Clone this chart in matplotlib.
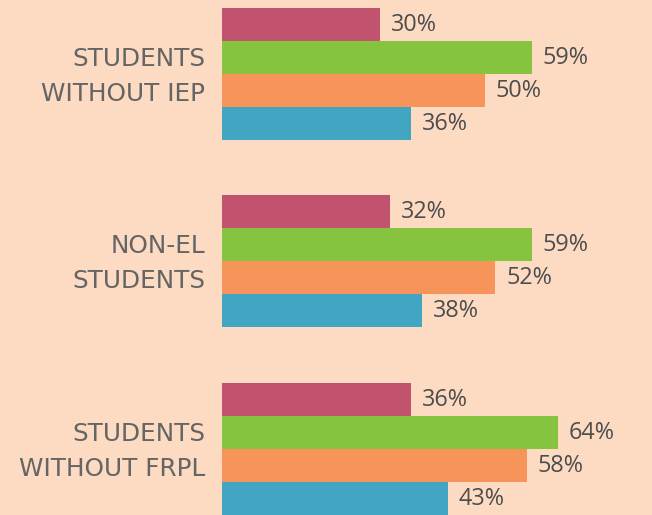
import matplotlib
matplotlib.use("Agg")
import matplotlib.pyplot as plt
from matplotlib.transforms import offset_copy

categories = ["STUDENTS\nWITHOUT IEP", "NON-EL\nSTUDENTS", "STUDENTS\nWITHOUT FRPL"]
series_pink = [30, 32, 36]
series_green = [59, 59, 64]
series_orange = [50, 52, 58]
series_blue = [36, 38, 43]
series = [series_pink, series_green, series_orange, series_blue]
colors = ["#C2536E", "#86C440", "#F69459", "#42A5C2"]
bg = "#FDDBC2"
value_color = "#4D4D4D"
cat_color = "#656565"

fig = plt.figure(figsize=(6.52, 5.15), dpi=100, facecolor=bg)
ax = fig.add_axes([222/652, 0, 1 - 222/652, 1])
ax.set_facecolor(bg)

group_gap = 5.68
for j, (vals, c) in enumerate(zip(series, colors)):
    ys = [g * group_gap + j for g in range(len(categories))]
    ax.barh(ys, vals, height=1.0, color=c, linewidth=0)
    for y, v in zip(ys, vals):
        t = offset_copy(ax.transData, fig=fig, x=11, y=-6.5, units='dots')
        ax.text(v, y, f"{v}%", transform=t, va='baseline', ha='left',
                fontsize=16.8, family=['Open Sans', 'DejaVu Sans'],
                color=value_color)

for g, cat in enumerate(categories):
    yc = g * group_gap + 1.5
    lines = cat.split("\n")
    for k, line in enumerate(lines):
        dy = 8 if k == 0 else -27
        t = offset_copy(ax.transData, fig=fig, x=-17, y=dy, units='dots')
        ax.text(0, yc, line, transform=t, ha='right', va='baseline',
                fontsize=17.8, family=['DejaVu Sans'], color=cat_color)

ax.set_xlim(0, (652 - 222) / 5.25)
ax.set_ylim(-0.742 + 515/33, -0.742)
ax.axis('off')

fig.savefig("out.png", dpi=100, facecolor=bg)
